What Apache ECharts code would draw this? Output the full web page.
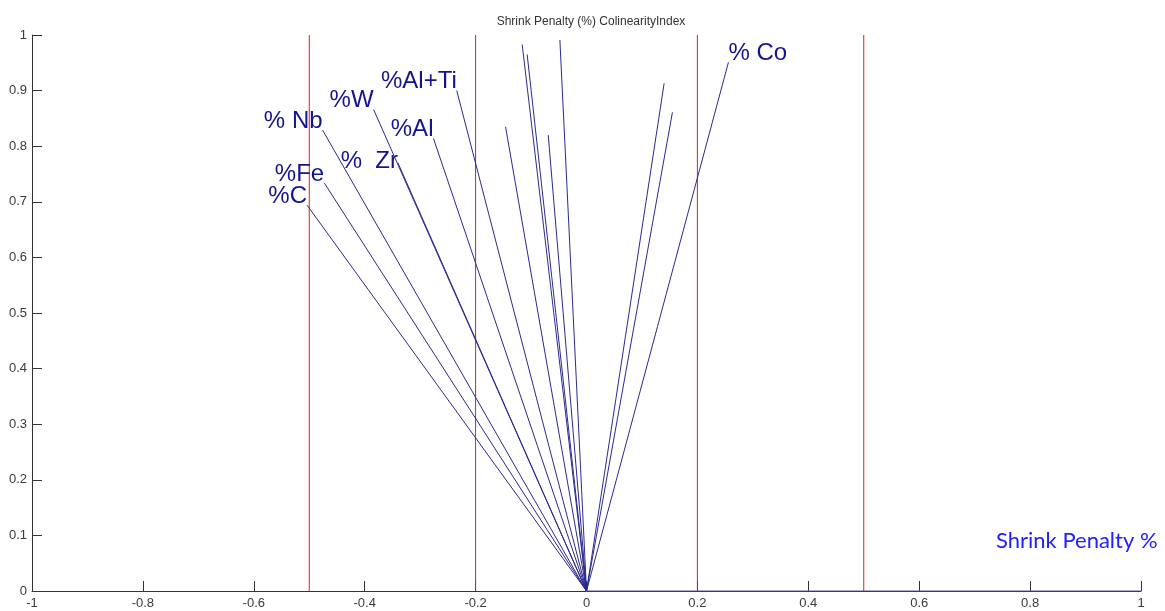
<!DOCTYPE html>
<html>
<head>
<meta charset="utf-8">
<script src="https://cdn.jsdelivr.net/npm/echarts@6/dist/echarts.min.js"></script>
<style>
html,body{margin:0;padding:0;background:#fff;}
#chart{width:1165px;height:611px;}
</style>
</head>
<body>
<div id="chart"></div>
<script>
// ---- data ----
var chartTitle = 'Shrink Penalty (%) ColinearityIndex';
var xAxisName = 'Shrink Penalty %';
var vecNames = ['%C', '%Fe', '% Nb', '%W', '%  Zr', '%Al', '%Al+Ti', '', '', '', '', '', '', '', '% Co'];
var vecX = [-0.504, -0.473, -0.476, -0.384, -0.340, -0.276, -0.234, -0.146, -0.116, -0.107, -0.069, -0.048, 0.140, 0.155, 0.256];
var vecY = [0.694, 0.734, 0.829, 0.866, 0.770, 0.814, 0.900, 0.835, 0.983, 0.965, 0.820, 0.991, 0.913, 0.861, 0.951];
var refLinesX = [-0.5, -0.2, 0.2, 0.5];
var baselineX = [0, 1];

// label placement styles keyed by label
var labelStyle = {
  '%  Zr': {align: 'right', verticalAlign: 'middle', dy: -2},
  '% Co': {align: 'left', verticalAlign: 'bottom', dy: 3}
};

var chart = echarts.init(document.getElementById('chart'));

var series = [];
refLinesX.forEach(function (x) {
  series.push({
    type: 'line', data: [[x, 0], [x, 1]], symbol: 'none', silent: true, z: 2,
    lineStyle: {color: '#e81818', width: 1, opacity: 1}
  });
});
series.push({
  type: 'line', data: baselineX.map(function (x) { return [x, 0]; }),
  symbol: 'none', lineStyle: {color: '#5a5aa8', width: 1}, z: 3, silent: true
});
vecX.forEach(function (x, i) {
  series.push({
    type: 'line', data: [[0, 0], [x, vecY[i]]], symbol: 'none', silent: true, z: 4,
    lineStyle: {color: '#2a2a90', width: 1}
  });
});
var labelPts = [];
vecNames.forEach(function (n, i) {
  if (!n) return;
  var st = labelStyle[n] || {align: 'right', verticalAlign: 'bottom', dy: 3};
  labelPts.push({
    value: [vecX[i], vecY[i]],
    name: n,
    label: {align: st.align, verticalAlign: st.verticalAlign, position: [0, st.dy]}
  });
});
series.push({
  type: 'scatter', data: labelPts, symbolSize: 0, z: 5, silent: true,
  itemStyle: {opacity: 1},
  label: {
    show: true, opacity: 1,
    formatter: function (p) { return p.name; },
    color: '#14148f', fontSize: 24, fontFamily: 'Liberation Sans, Arial, sans-serif'
  }
});

var tickFont = {color: '#3a3a3a', fontSize: 13, fontFamily: 'Liberation Sans, Arial, sans-serif'};
var fmt = function (v) { return String(Math.round(v * 10) / 10); };

chart.setOption({
  animation: false,
  backgroundColor: '#ffffff',
  title: {
    text: chartTitle,
    left: 586, top: 11, textAlign: 'center',
    textStyle: {fontSize: 12, fontWeight: 'normal', color: '#333', fontFamily: 'Liberation Sans, Arial, sans-serif'}
  },
  graphic: [{
    type: 'text', left: 996, top: 530,
    style: {text: xAxisName, fill: '#2020ff', font: '22px Lato, "Open Sans", sans-serif'}
  }],
  grid: {left: 32, top: 35, width: 1109, height: 556, containLabel: false},
  xAxis: {
    type: 'value', min: -1, max: 1, interval: 0.2,
    axisLine: {onZero: false, lineStyle: {color: '#333', width: 1}},
    axisTick: {inside: true, length: 10, lineStyle: {color: '#333'}},
    axisLabel: Object.assign({margin: 6, formatter: fmt}, tickFont),
    splitLine: {show: false}
  },
  yAxis: {
    type: 'value', min: 0, max: 1, interval: 0.1,
    axisLine: {show: true, onZero: false, lineStyle: {color: '#333', width: 1}},
    axisTick: {show: true, inside: true, length: 10, lineStyle: {color: '#333'}},
    axisLabel: Object.assign({margin: 5, formatter: fmt}, tickFont),
    splitLine: {show: false}
  },
  series: series
});
</script>
</body>
</html>
